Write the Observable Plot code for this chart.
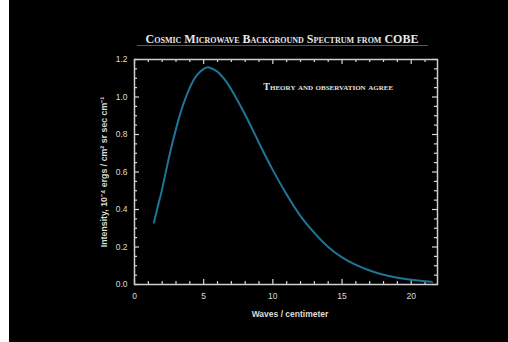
<!DOCTYPE html>
<html>
<head>
<meta charset="utf-8">
<script src="https://cdn.jsdelivr.net/npm/d3@7"></script>
<script src="https://cdn.jsdelivr.net/npm/@observablehq/plot@0.6"></script>
<style>
  html, body { margin: 0; padding: 0; background: #fff; }
  #chart { position: absolute; left: 9px; top: 0; width: 499px; height: 342px; background: #000; }
</style>
</head>
<body>
<div id="chart"></div>
<script>
// Data
const waves = [1.4, 1.6, 1.8, 2, 2.5, 3, 3.5, 4, 4.5, 5, 5.25, 5.5, 6, 6.5, 7, 8, 9, 10, 11, 12, 13, 14, 15, 16, 17, 18, 19, 20, 21, 21.5];
const intensity = [0.33, 0.39, 0.45, 0.51, 0.68, 0.83, 0.955, 1.05, 1.115, 1.15, 1.158, 1.155, 1.135, 1.095, 1.04, 0.905, 0.755, 0.61, 0.48, 0.365, 0.275, 0.2, 0.145, 0.105, 0.075, 0.052, 0.036, 0.025, 0.017, 0.014];
const xMajor = [0, 5, 10, 15, 20];
const xMinor = [1, 2, 3, 4, 6, 7, 8, 9, 11, 12, 13, 14, 16, 17, 18, 19, 21];
const yMajor = [0, 0.2, 0.4, 0.6, 0.8, 1.0, 1.2];
const yMinor = [0.05, 0.1, 0.15, 0.25, 0.3, 0.35, 0.45, 0.5, 0.55, 0.65, 0.7, 0.75, 0.85, 0.9, 0.95, 1.05, 1.1, 1.15];
const title = "Cosmic Microwave Background Spectrum from COBE";
const note = "Theory and observation agree";
const xLabel = "Waves / centimeter";
const yLabel = "Intensity, 10⁻⁴ ergs / cm² sr sec cm⁻¹";

const data = waves.map((w, i) => ({w, v: intensity[i]}));

const W = 499, H = 342;
const mL = 125, mR = 71, mT = 59, mB = 58;
const fw = W - mL - mR, fh = H - mT - mB;
const tickCol = "#d8d8d8";
const serif = "'Liberation Serif', 'DejaVu Serif', serif";
const sans = "'Liberation Sans', Arial, sans-serif";

const chart = Plot.plot({
  width: W, height: H,
  marginLeft: mL, marginRight: mR, marginTop: mT, marginBottom: mB,
  style: {background: "#000", color: "#dcdcdc", fontFamily: sans},
  x: {domain: [0, 21.9]},
  y: {domain: [0, 1.2]},
  marks: [
    Plot.axisX({ticks: xMajor, tickSize: 0, tickPadding: 8, label: null, fontSize: 8.5, tickFormat: d3.format("d")}),
    Plot.axisY({ticks: yMajor, tickSize: 0, tickPadding: 7, label: null, fontSize: 8.5, tickFormat: d3.format(".1f")}),
    // inward ticks
    Plot.ruleX(xMajor, {insetTop: fh - 5, stroke: tickCol, strokeWidth: 1.2}),
    Plot.ruleX(xMajor, {insetBottom: fh - 5, stroke: tickCol, strokeWidth: 1.2}),
    Plot.ruleX(xMinor, {insetTop: fh - 3, stroke: tickCol, strokeWidth: 1.2}),
    Plot.ruleX(xMinor, {insetBottom: fh - 3, stroke: tickCol, strokeWidth: 1.2}),
    Plot.ruleY(yMajor, {insetRight: fw - 5, stroke: tickCol, strokeWidth: 1.2}),
    Plot.ruleY(yMajor, {insetLeft: fw - 5, stroke: tickCol, strokeWidth: 1.2}),
    Plot.ruleY(yMinor, {insetRight: fw - 3, stroke: tickCol, strokeWidth: 1.2}),
    Plot.ruleY(yMinor, {insetLeft: fw - 3, stroke: tickCol, strokeWidth: 1.2}),
    Plot.frame({stroke: "#cfcfcf", strokeWidth: 1.5}),
    Plot.line(data, {x: "w", y: "v", stroke: "#1f7597", strokeWidth: 2, curve: "natural"}),
    // title and underline
    Plot.text([title], {frameAnchor: "top", dx: -4, dy: -17, lineAnchor: "bottom", fontFamily: serif, fontSize: 12, fontWeight: "bold", fontVariant: "small-caps", fill: "#e8e8e8"}),
    Plot.ruleY([1.2], {dy: -14, insetLeft: 3, insetRight: 9, stroke: "#4a5c72", strokeWidth: 1.2}),
    // annotation
    Plot.text([note], {x: () => 14.0, y: () => 1.055, fontFamily: serif, fontSize: 10, fontWeight: "bold", fontVariant: "small-caps", fill: "#e0e0e0"}),
    // axis labels
    Plot.text([xLabel], {frameAnchor: "bottom", dx: 4, dy: 32, fontSize: 8.5, fontWeight: "bold", fill: "#dcdcdc"}),
    Plot.text([yLabel], {frameAnchor: "left", textAnchor: "middle", dx: -30, dy: 0, rotate: -90, fontSize: 8.8, fontWeight: "bold", fill: "#dcdcdc"})
  ]
});
document.getElementById("chart").append(chart);
</script>
</body>
</html>
